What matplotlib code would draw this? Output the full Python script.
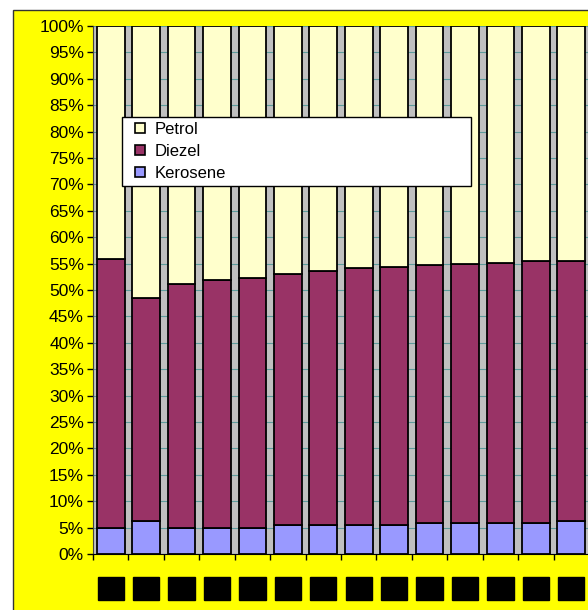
import numpy as np
import matplotlib.pyplot as plt
from matplotlib.patches import Rectangle
from matplotlib.lines import Line2D

plt.rcParams['font.family'] = ['Liberation Sans', 'DejaVu Sans']

# shares in percent
years = ['90', '91', '92', '93', '94', '95', '96',
         '97', '98', '99', '00', '01', '02', '03']
kerosene = [5.0, 6.3, 5.0, 5.0, 5.0, 5.5, 5.5, 5.5, 5.5, 5.9, 5.9, 5.9, 5.9, 6.3]
diezel = [50.9, 42.1, 46.1, 46.8, 47.2, 47.5, 48.1, 48.6, 48.9, 48.9, 49.0, 49.3, 49.6, 49.2]
petrol = [100 - k - d for k, d in zip(kerosene, diezel)]

c_petrol = '#FFFFCC'
c_diezel = '#993366'
c_kero = '#9999FF'


def main():
    fig = plt.figure(figsize=(5.88, 6.10), dpi=100)
    fig.patch.set_facecolor('white')

    # yellow chart area
    bg = Rectangle((13 / 588, -0.01), 1.0, (610 - 10) / 610 + 0.01,
                   transform=fig.transFigure, facecolor='#FFFF00',
                   edgecolor='#333333', linewidth=1.0, zorder=-10)
    fig.add_artist(bg)

    ax = fig.add_axes([93 / 588, 56 / 610, 496 / 588, 528 / 610])
    ax.set_facecolor('#C0C0C0')

    x = np.arange(len(years))
    w = 0.78
    bot2 = np.array(kerosene)
    bot3 = bot2 + np.array(diezel)
    ax.bar(x, kerosene, w, color=c_kero, edgecolor='black', linewidth=1.3, zorder=3)
    ax.bar(x, diezel, w, bottom=bot2, color=c_diezel, edgecolor='black', linewidth=1.3, zorder=3)
    ax.bar(x, petrol, w, bottom=bot3, color=c_petrol, edgecolor='black', linewidth=1.3, zorder=3)

    ax.set_xlim(-0.5, len(years) - 0.5)
    ax.set_ylim(0, 100)
    ax.set_yticks(np.arange(0, 101, 5))
    ax.set_yticklabels(['%d%%' % v for v in range(0, 101, 5)], fontsize=12.5)
    ax.yaxis.grid(True, color='#5E9C9C', linewidth=0.8)
    ax.set_axisbelow(True)

    ax.set_xticks(np.arange(-0.5, len(years), 1.0))
    ax.set_xticklabels([])
    ax.tick_params(axis='both', direction='out', length=4.5, width=1, color='black', pad=2)

    for s in ['top', 'right']:
        ax.spines[s].set_visible(False)
    ax.spines['left'].set_color('#444444')
    ax.spines['bottom'].set_color('black')

    # category labels (blacked out in the original)
    for i, yr in enumerate(years):
        ax.text(i, -0.052, yr, transform=ax.get_xaxis_transform(),
                ha='center', va='top', fontsize=11, color='black',
                bbox=dict(boxstyle='square,pad=0.3', facecolor='black', edgecolor='black'),
                clip_on=False)

    handles = [Line2D([], [], linestyle='none', marker='s', markersize=7.5,
                      markerfacecolor=c, markeredgecolor='black', markeredgewidth=1.2)
               for c in [c_petrol, c_diezel, c_kero]]
    leg = ax.legend(handles, ['Petrol', 'Diezel', 'Kerosene'], loc='upper left',
                    bbox_to_anchor=(0.058, 0.697, 0.705, 0.131), mode='expand',
                    borderaxespad=0, fontsize=12, fancybox=False, framealpha=1,
                    edgecolor='black', handlelength=1.6,
                    handletextpad=0.1, labelspacing=0.42, borderpad=0.3)
    leg.get_frame().set_linewidth(1.0)
    leg.set_zorder(5)

    fig.savefig('out.png', dpi=100)


if __name__ == '__main__':
    main()
